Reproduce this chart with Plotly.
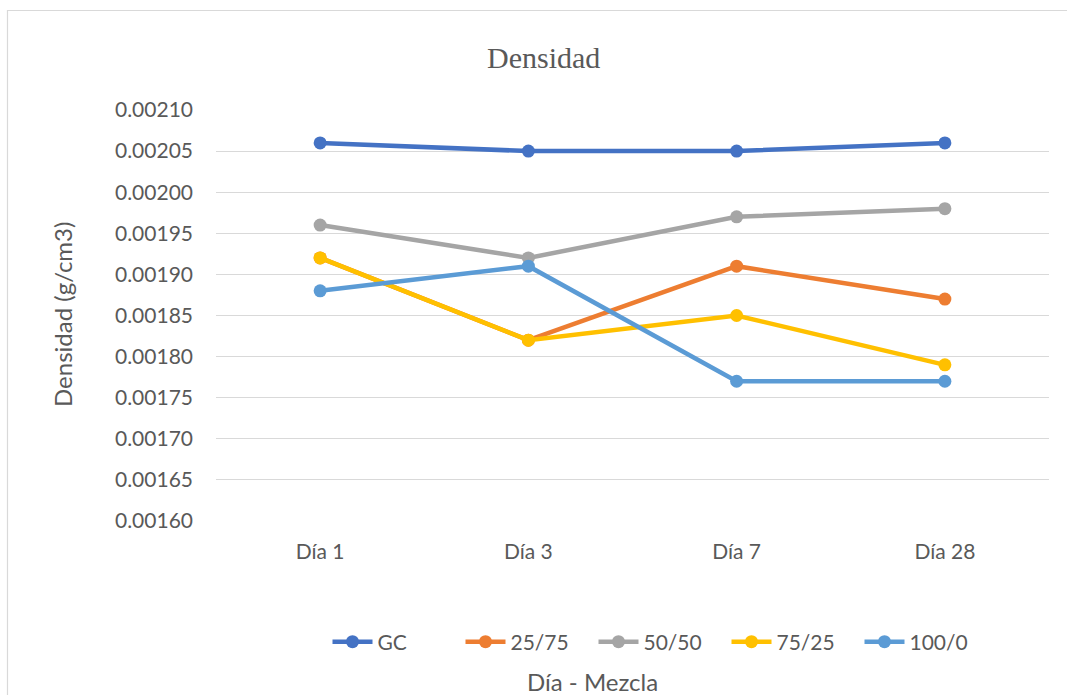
import plotly.graph_objects as go

# Density by curing day for each mix
dias = ["Día 1", "Día 3", "Día 7", "Día 28"]
gc = [0.00206, 0.00205, 0.00205, 0.00206]
m25_75 = [0.00192, 0.00182, 0.00191, 0.00187]
m50_50 = [0.00196, 0.00192, 0.00197, 0.00198]
m75_25 = [0.00192, 0.00182, 0.00185, 0.00179]
m100_0 = [0.00188, 0.00191, 0.00177, 0.00177]

series = [
    ("GC", gc, "#4472C4"),
    ("25/75", m25_75, "#ED7D31"),
    ("50/50", m50_50, "#A5A5A5"),
    ("75/25", m75_25, "#FFC000"),
    ("100/0", m100_0, "#5B9BD5"),
]

W, H = 1067, 695
L, R, T, B = 216, 18, 110, 174
pw, ph = W - L - R, H - T - B


def px(x):
    return (x - L) / pw


def py(y):
    return (H - B - y) / ph


text_font = "Lato, Open Sans, sans-serif"
grey_text = "#595959"

fig = go.Figure()
for name, vals, color in series:
    fig.add_trace(go.Scatter(
        x=dias, y=vals, name=name, mode="lines+markers",
        line=dict(color=color, width=4.5),
        marker=dict(color=color, size=13),
    ))

fig.update_layout(
    width=W, height=H,
    margin=dict(l=L, r=R, t=T, b=B),
    paper_bgcolor="white", plot_bgcolor="white",
    font=dict(family=text_font, size=21, color=grey_text),
    showlegend=True,
    legend=dict(
        orientation="h", x=px(660), xanchor="center",
        y=py(642), yanchor="middle",
        font=dict(size=21, color=grey_text),
        entrywidth=78, entrywidthmode="pixels",
        itemwidth=40, tracegroupgap=0,
    ),
    xaxis=dict(
        type="category", range=[-0.5, 3.5],
        showgrid=False, showline=False, zeroline=False,
        ticks="", tickfont=dict(size=21, color=grey_text),
        ticklabelstandoff=16,
    ),
    yaxis=dict(
        range=[0.00160, 0.00210], dtick=0.00005, tick0=0.00160,
        tickformat=".5f", showgrid=True, gridcolor="#D9D9D9", gridwidth=1,
        zeroline=False, showline=False, ticks="",
        tickfont=dict(size=21, color=grey_text), ticklabelstandoff=22,
    ),
    shapes=[dict(
        type="rect", xref="paper", yref="paper",
        x0=px(7.5), x1=px(1080), y0=py(10.5), y1=py(720),
        line=dict(color="#D9D9D9", width=1.2), fillcolor="rgba(0,0,0,0)",
        layer="below",
    )],
    annotations=[
        dict(text="Densidad", xref="paper", yref="paper",
             x=px(543), y=py(57), xanchor="center", yanchor="middle",
             showarrow=False,
             font=dict(family="Liberation Serif, Times New Roman, serif",
                       size=30, color=grey_text)),
        dict(text="Densidad (g/cm3)", xref="paper", yref="paper",
             x=px(62), y=py(315), xanchor="center", yanchor="middle",
             textangle=-90, showarrow=False,
             font=dict(size=24, color=grey_text)),
        dict(text="Día - Mezcla", xref="paper", yref="paper",
             x=px(592), y=py(681), xanchor="center", yanchor="middle",
             showarrow=False, font=dict(size=24, color=grey_text)),
    ],
)

fig.write_html("out.html")
